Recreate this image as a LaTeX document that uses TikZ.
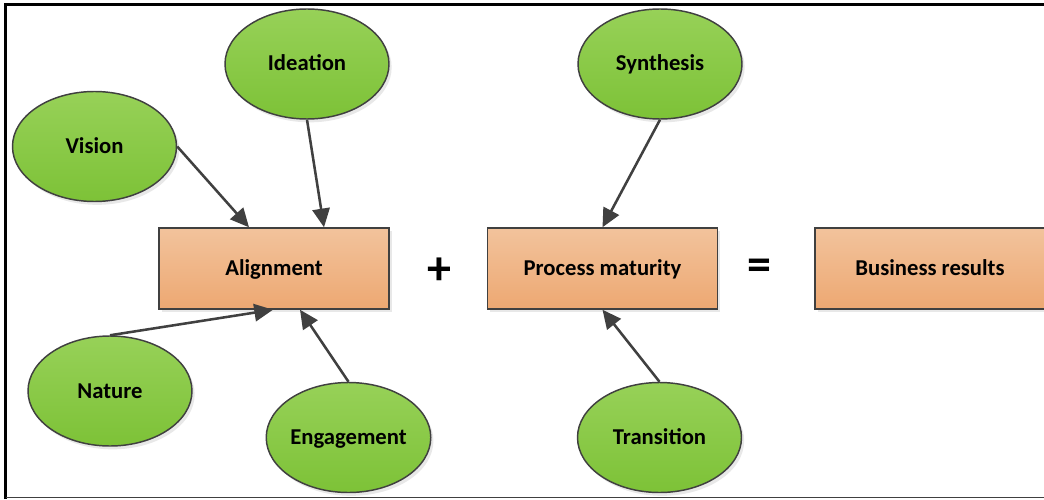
\documentclass[tikz,border=0pt]{standalone}
\usepackage{fontspec}
\setmainfont{Carlito}
\usetikzlibrary{arrows.meta,shapes.geometric,shadows,calc}
\definecolor{edgegray}{HTML}{404040}
\definecolor{greentop}{HTML}{97D158}
\definecolor{greenbot}{HTML}{7DC237}
\definecolor{orangetop}{HTML}{F2C39C}
\definecolor{orangebot}{HTML}{EDA872}
\begin{document}
\begin{tikzpicture}[x=0.75pt,y=-0.75pt,
  lbl/.style={font=\fontsize{17}{20}\selectfont\bfseries, text=black,
    text height=10.5pt, text depth=0pt},
  idea/.style={ellipse, lbl, draw=edgegray, line width=1.1pt,
    top color=greentop, bottom color=greenbot,
    minimum width=123pt, minimum height=82.5pt, inner sep=0pt,
    drop shadow={opacity=0.18, shadow xshift=2pt, shadow yshift=-2.5pt}},
  stage/.style={rectangle, lbl, draw=edgegray, line width=1.1pt,
    top color=orangetop, bottom color=orangebot,
    minimum width=172.5pt, minimum height=60.75pt, inner sep=0pt,
    drop shadow={opacity=0.18, shadow xshift=2pt, shadow yshift=-2.5pt}},
  op/.style={font=\fontsize{36}{36}\selectfont\bfseries},
  link/.style={draw=edgegray, line width=1.9pt,
    -{Triangle[length=14pt,width=13pt]}}]
\useasboundingbox (0,0) rectangle (1044,499);
\fill[white] (0,0) rectangle (1044,499);

% frame
\draw[black, line width=2.4pt] (5.5,499) -- (5.5,4.5) -- (1044,4.5);
\draw[edgegray, line width=1.2pt] (5.5,497.5) -- (1044,497.5);

% three stages
\node[stage] (align) at (274,268.5) {Alignment};
\node[stage] (proc)  at (602.5,268.5) {Process maturity};
\node[stage] (biz)   at (930,268.5) {Business results};

% operators
\node[op] (plus)   at (439,271) {+};
\node[op] (equals) at (759,270) {=};

% contributing factors
\node[idea] (ideation)   at (307,64)  {Ideation};
\node[idea] (vision)     at (94.5,146.5) {Vision};
\node[idea] (synthesis)  at (660,64)  {Synthesis};
\node[idea] (nature)     at (110,391) {Nature};
\node[idea] (engagement) at (348.5,437.5) {Engagement};
\node[idea] (transition) at (659.5,437.5) {Transition};

% influences
\coordinate (a1) at ($(align.north)+(-25,0)$);
\coordinate (a2) at ($(align.north)+(50,0)$);
\coordinate (a3) at ($(align.south)+(-1,0)$);
\coordinate (a4) at ($(align.south)+(26,0)$);
\draw[link] (vision.east) -- (a1);
\draw[link] (ideation.south) -- (a2);
\draw[link] (nature.north) -- (a3);
\draw[link] (engagement.north) -- (a4);
\draw[link] (synthesis.south) -- (proc.north);
\draw[link] (transition.north) -- (proc.south);
\end{tikzpicture}
\end{document}
